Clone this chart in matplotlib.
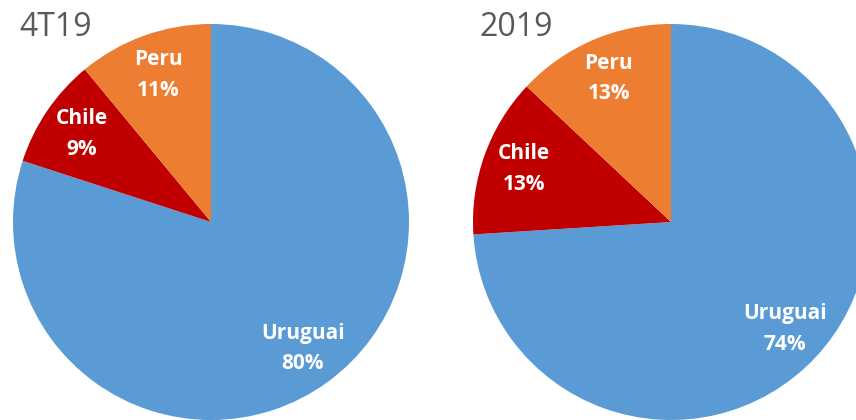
import matplotlib
matplotlib.use("Agg")
import matplotlib.pyplot as plt

categories = ["Uruguai", "Chile", "Peru"]
values_4t19 = [80, 9, 11]
values_2019 = [74, 13, 13]
titles = ["4T19", "2019"]
colors = ["#5B9BD5", "#C00000", "#ED7D31"]

W, H = 856, 420
fig = plt.figure(figsize=(W / 100, H / 100), dpi=100)

R = 198
centers = [(211, 222), (671, 222)]
title_pos = [(19, 28), (479, 28)]

for (cx, cy), vals, title, (tx, ty) in zip(centers, [values_4t19, values_2019], titles, title_pos):
    ax = fig.add_axes([(cx - R) / W, (H - cy - R) / H, 2 * R / W, 2 * R / H])
    wedges, texts, autotexts = ax.pie(
        vals, colors=colors, startangle=90, counterclock=False,
        autopct="%d%%", pctdistance=0.79, radius=1.0,
        wedgeprops=dict(linewidth=0),
    )
    for t, name, v in zip(autotexts, categories, vals):
        t.set_text(f"{name}\n{v}%")
        t.set_color("white")
        t.set_fontsize(15)
        t.set_fontweight("bold")
        t.set_family("Open Sans")
        t.set_linespacing(1.6)
    ax.set_xlim(-1, 1)
    ax.set_ylim(-1, 1)
    ax.set_aspect("equal")
    ax.axis("off")
    fig.text(tx / W, 1 - ty / H, title, fontsize=23, color="#595959",
             family="Open Sans", ha="left", va="center")

fig.savefig("out.png", dpi=100)
